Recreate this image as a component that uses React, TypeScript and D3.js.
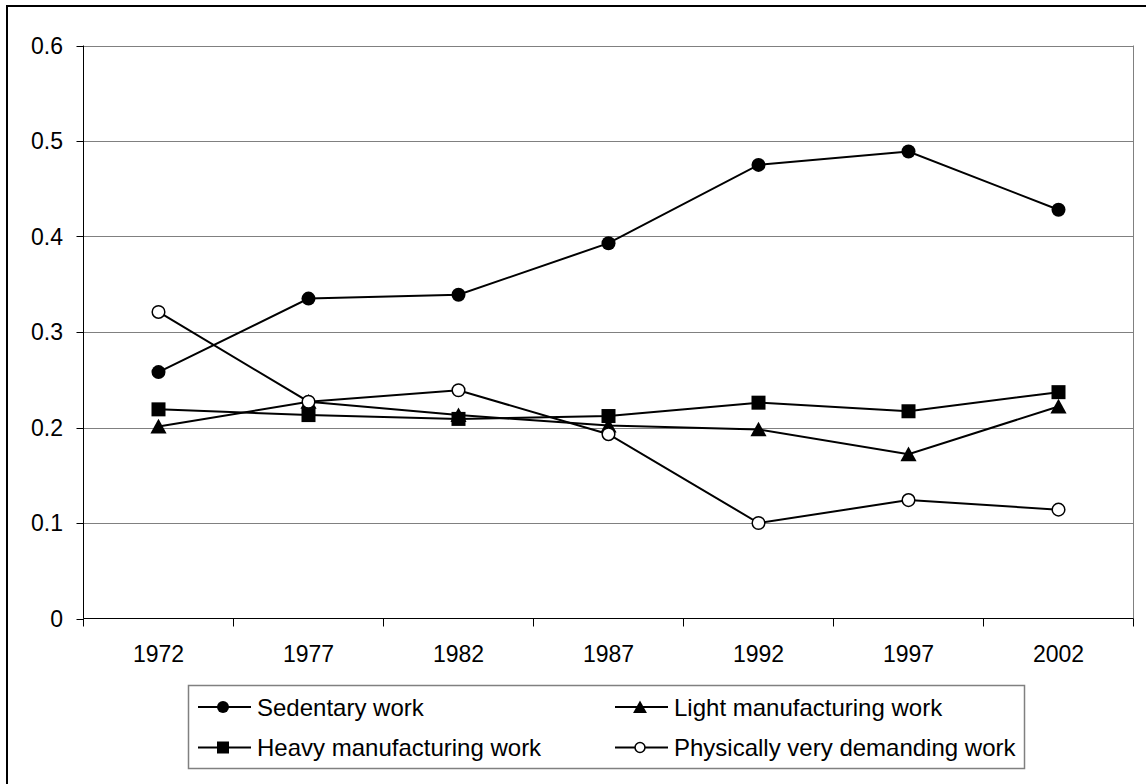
import { useEffect, useRef } from 'react';
import * as d3 from 'd3';

const years = ['1972', '1977', '1982', '1987', '1992', '1997', '2002'];
const sedentary = [0.258, 0.335, 0.339, 0.393, 0.475, 0.489, 0.428];
const light = [0.201, 0.227, 0.213, 0.202, 0.198, 0.172, 0.222];
const heavy = [0.219, 0.213, 0.209, 0.212, 0.226, 0.217, 0.237];
const physical = [0.321, 0.227, 0.239, 0.193, 0.1, 0.124, 0.114];
const yTicks = [0, 0.1, 0.2, 0.3, 0.4, 0.5, 0.6];

type Marker = 'circle' | 'triangle' | 'square' | 'open';
const series: { name: string; values: number[]; marker: Marker }[] = [
  { name: 'Sedentary work', values: sedentary, marker: 'circle' },
  { name: 'Light manufacturing work', values: light, marker: 'triangle' },
  { name: 'Heavy manufacturing work', values: heavy, marker: 'square' },
  { name: 'Physically very demanding work', values: physical, marker: 'open' },
];

const FONT = 'Arial, "Liberation Sans", sans-serif';

function drawMarker(
  g: d3.Selection<SVGGElement, unknown, null, undefined>,
  type: Marker,
  x: number,
  y: number,
  s: number,
) {
  if (type === 'circle') {
    g.append('circle').attr('cx', x).attr('cy', y).attr('r', s * 0.5).attr('fill', '#000');
  } else if (type === 'open') {
    g.append('circle').attr('cx', x).attr('cy', y).attr('r', s * 0.45)
      .attr('fill', '#fff').attr('stroke', '#000').attr('stroke-width', 1.5);
  } else if (type === 'square') {
    g.append('rect').attr('x', x - s / 2).attr('y', y - s / 2)
      .attr('width', s).attr('height', s).attr('fill', '#000');
  } else {
    const h = s * 0.55;
    g.append('path')
      .attr('d', `M${x},${y - h} L${x + h * 1.05},${y + h * 0.9} L${x - h * 1.05},${y + h * 0.9} Z`)
      .attr('fill', '#000');
  }
}

export default function App() {
  const svgRef = useRef<SVGSVGElement>(null);

  useEffect(() => {
    if (!svgRef.current) return;
    const svg = d3.select(svgRef.current);
    svg.selectAll('*').remove();

    const left = 83.5;
    const right = 1133.5;
    const top = 45.5;
    const bottom = 618.5;

    const x = d3.scaleBand<string>().domain(years).range([left, right]);
    const y = d3.scaleLinear().domain([0, 0.6]).range([bottom, top]);
    const cx = (yr: string) => (x(yr) ?? 0) + x.bandwidth() / 2;

    // outer frame (only top and left fall inside the page)
    svg.append('rect')
      .attr('x', 7).attr('y', 6).attr('width', 1160).attr('height', 800)
      .attr('fill', '#fff').attr('stroke', '#000').attr('stroke-width', 2);

    // gridlines
    svg.append('g')
      .selectAll('line')
      .data(yTicks.filter(t => t > 0))
      .join('line')
      .attr('x1', left).attr('x2', right)
      .attr('y1', d => Math.round(y(d)) + 0.5).attr('y2', d => Math.round(y(d)) + 0.5)
      .attr('stroke', '#808080').attr('stroke-width', 1);

    // plot right edge
    svg.append('line')
      .attr('x1', right).attr('x2', right).attr('y1', top).attr('y2', bottom)
      .attr('stroke', '#808080');

    // y axis
    const yAxis = svg.append('g');
    yAxis.append('line')
      .attr('x1', left).attr('x2', left).attr('y1', top).attr('y2', bottom)
      .attr('stroke', '#000');
    yAxis.selectAll('line.tick')
      .data(yTicks)
      .join('line')
      .attr('class', 'tick')
      .attr('x1', left - 7).attr('x2', left)
      .attr('y1', d => Math.round(y(d)) + 0.5).attr('y2', d => Math.round(y(d)) + 0.5)
      .attr('stroke', '#000');
    yAxis.selectAll('text')
      .data(yTicks)
      .join('text')
      .attr('x', 63).attr('y', d => y(d) + 8)
      .attr('text-anchor', 'end')
      .attr('font-family', FONT).attr('font-size', 23)
      .text(d => String(d));

    // x axis
    const xAxis = svg.append('g');
    xAxis.append('line')
      .attr('x1', left).attr('x2', right).attr('y1', bottom).attr('y2', bottom)
      .attr('stroke', '#000');
    xAxis.selectAll('line.tick')
      .data([...years.map(yr => x(yr) ?? 0), right])
      .join('line')
      .attr('class', 'tick')
      .attr('x1', d => d).attr('x2', d => d)
      .attr('y1', bottom).attr('y2', bottom + 8)
      .attr('stroke', '#000');
    xAxis.selectAll('text')
      .data(years)
      .join('text')
      .attr('x', d => cx(d)).attr('y', 662)
      .attr('text-anchor', 'middle')
      .attr('font-family', FONT).attr('font-size', 23)
      .text(d => d);

    // series
    const line = d3.line<number>()
      .x((_, i) => cx(years[i]))
      .y(d => y(d));

    series.forEach(s => {
      const g = svg.append('g');
      g.append('path')
        .datum(s.values)
        .attr('d', line)
        .attr('fill', 'none')
        .attr('stroke', '#000')
        .attr('stroke-width', 2);
      s.values.forEach((v, i) => drawMarker(g, s.marker, cx(years[i]), y(v), 14));
    });

    // legend, two columns, read row by row
    const lg = svg.append('g');
    lg.append('rect')
      .attr('x', 188.5).attr('y', 685.5).attr('width', 836).attr('height', 83)
      .attr('fill', '#fff').attr('stroke', '#808080').attr('stroke-width', 1.5);

    const colX = [198, 615];
    const rowY = [707, 747.5];
    series.forEach((s, k) => {
      const lx = colX[k % 2];
      const ly = rowY[Math.floor(k / 2)];
      const g = lg.append('g');
      g.append('line')
        .attr('x1', lx).attr('x2', lx + 53).attr('y1', ly).attr('y2', ly)
        .attr('stroke', '#000').attr('stroke-width', 2);
      drawMarker(g, s.marker, lx + 25, ly, s.marker === 'open' ? 11 : 12);
      g.append('text')
        .attr('x', lx + 59).attr('y', ly + 8.5)
        .attr('font-family', FONT).attr('font-size', 24)
        .text(s.name);
    });
  }, []);

  return (
    <svg
      ref={svgRef}
      width={1146}
      height={784}
      style={{ position: 'absolute', left: 0, top: 0, background: '#fff' }}
    />
  );
}
